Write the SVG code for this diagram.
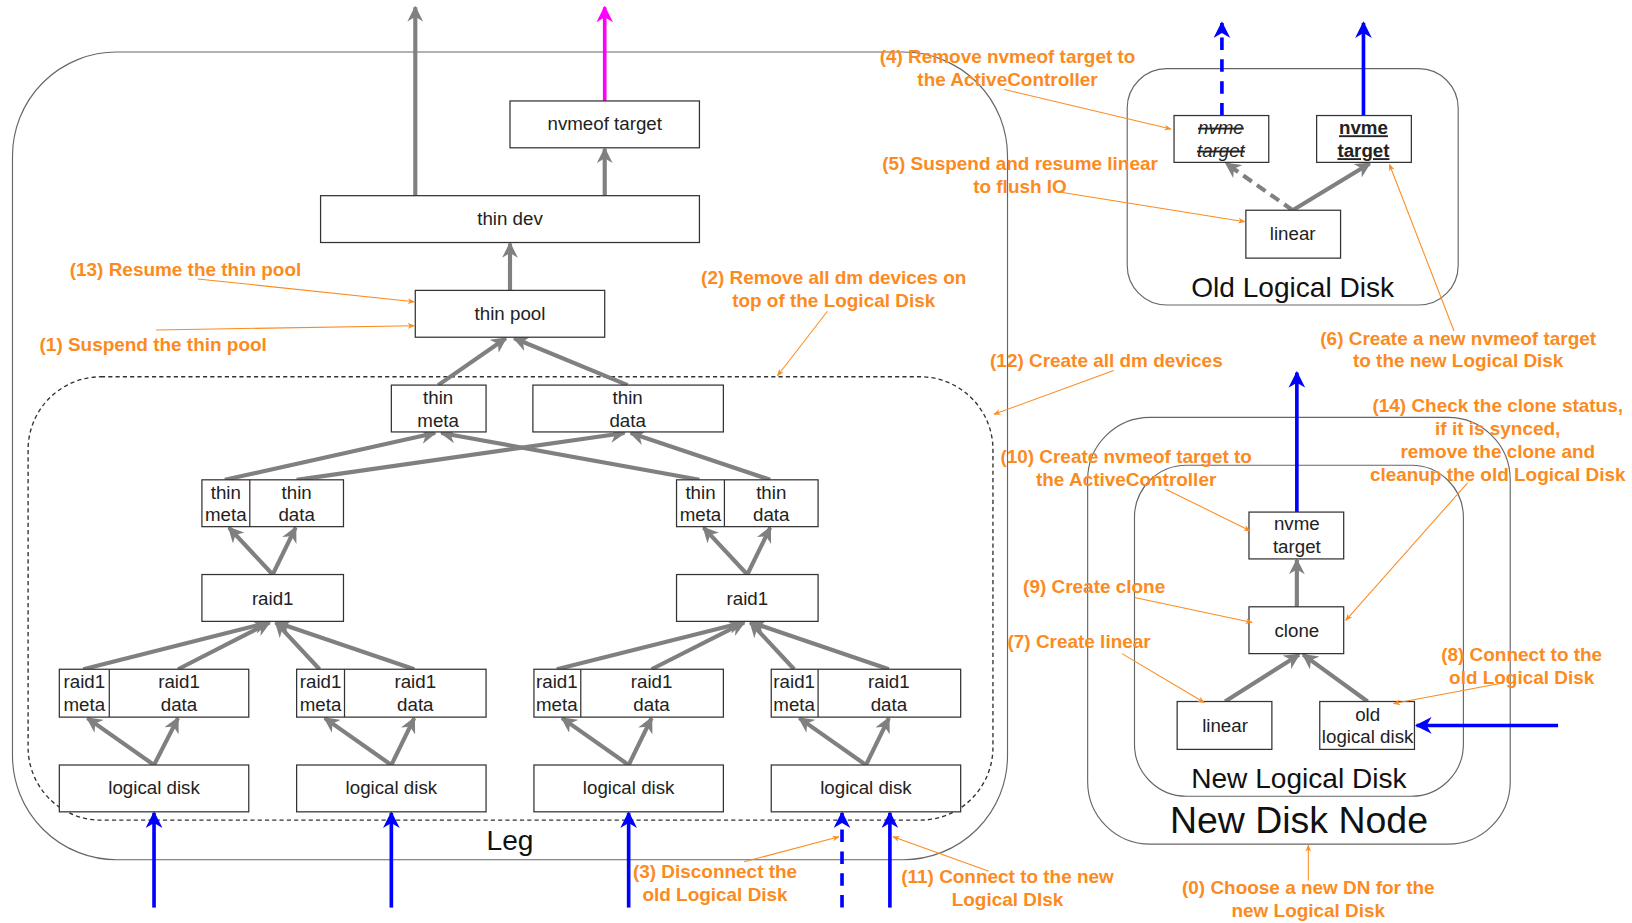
<svg xmlns="http://www.w3.org/2000/svg" width="1632" height="923" viewBox="0 0 1632 923">
<style>
.n rect{fill:#fff;stroke:#333;stroke-width:1.2}
.n line{stroke:#333;stroke-width:1.2}
.t{font-family:"Liberation Sans",Arial,sans-serif;font-size:18px;fill:#222;text-anchor:middle}
.big{font-family:"Liberation Sans",Arial,sans-serif;fill:#111;text-anchor:middle}
.o{font-family:"Liberation Sans",Arial,sans-serif;font-size:18.2px;font-weight:bold;fill:#fb8b1f}
.m{text-anchor:middle}
.ol{stroke:#fb8b1f;stroke-width:1;fill:none;marker-end:url(#ao)}
.g{stroke:#808080;stroke-width:4;fill:none;marker-end:url(#ag)}
.b{stroke:#0000ff;stroke-width:3.5;fill:none;marker-end:url(#ab)}
.c{fill:none;stroke:#666;stroke-width:1.1}
</style>
<defs>
<marker id="ag" viewBox="0 0 10 10" refX="9" refY="5" markerWidth="3.8" markerHeight="3.8" orient="auto"><path d="M0,0 L10,5 L0,10 L3,5 z" fill="#808080"/></marker>
<marker id="ab" viewBox="0 0 10 10" refX="9" refY="5" markerWidth="4.6" markerHeight="4.6" orient="auto"><path d="M0,0 L10,5 L0,10 L3,5 z" fill="#0000ff"/></marker>
<marker id="am" viewBox="0 0 10 10" refX="9" refY="5" markerWidth="4.6" markerHeight="4.6" orient="auto"><path d="M0,0 L10,5 L0,10 L3,5 z" fill="#ff00ff"/></marker>
<marker id="ao" viewBox="0 0 10 10" refX="9" refY="5" markerWidth="7" markerHeight="7" markerUnits="userSpaceOnUse" orient="auto"><path d="M0,1 L10,5 L0,9 L3,5 z" fill="#fb8b1f"/></marker>
</defs>
<rect x="0" y="0" width="1632" height="923" fill="#fff"/>
<g transform="scale(1.040816)">
<g id="containers">
<rect id="leg" class="c" x="12" y="50" width="956" height="776" rx="100" ry="100"/>
<rect id="leg-inner" x="27" y="362" width="927" height="426" rx="70" ry="70" fill="none" stroke="#333" stroke-width="1.3" stroke-dasharray="4 3"/>
<text class="big" x="490" y="817" font-size="27">Leg</text>
<rect id="old-ld" class="c" x="1083" y="66" width="318" height="227" rx="38" ry="38" stroke="#555"/>
<text class="big" x="1242" y="285" font-size="27">Old Logical Disk</text>
<rect id="new-dn" class="c" x="1045" y="401" width="406" height="410" rx="60" ry="60" stroke="#555"/>
<text class="big" x="1248" y="800" font-size="36">New Disk Node</text>
<rect id="new-ld" class="c" x="1090" y="447" width="316" height="318" rx="50" ry="50" stroke="#555"/>
<text class="big" x="1248" y="757" font-size="27">New Logical Disk</text>
</g>
<g id="connectors">
<path class="g" d="M399,188 L399,7"/>
<path d="M581,97 L581,7" stroke="#ff00ff" stroke-width="3.5" fill="none" marker-end="url(#am)"/>
<path class="g" d="M581,188 L581,143"/>
<path class="g" d="M490,279 L490,234"/>
<path class="g" d="M421,370 L486,325"/>
<path class="g" d="M603,370 L494,325"/>
<path class="g" d="M216,461 L418,416"/>
<path class="g" d="M285,461 L600,416"/>
<path class="g" d="M672,461 L424,416"/>
<path class="g" d="M740,461 L606,416"/>
<path class="g" d="M262,552 L220,507"/>
<path class="g" d="M262,552 L284,507"/>
<path class="g" d="M718,552 L676,507"/>
<path class="g" d="M718,552 L740,507"/>
<path class="g" d="M80,643 L258,598"/>
<path class="g" d="M171,643 L259,598"/>
<path class="g" d="M307,643 L265,598"/>
<path class="g" d="M398,643 L266,598"/>
<path class="g" d="M535,643 L714,598"/>
<path class="g" d="M626,643 L715,598"/>
<path class="g" d="M763,643 L721,598"/>
<path class="g" d="M854,643 L722,598"/>
<path class="g" d="M148,735 L84,690"/>
<path class="g" d="M148,735 L171,690"/>
<path class="g" d="M376,735 L312,690"/>
<path class="g" d="M376,735 L398,690"/>
<path class="g" d="M604,735 L540,690"/>
<path class="g" d="M604,735 L626,690"/>
<path class="g" d="M832,735 L768,690"/>
<path class="g" d="M832,735 L854,690"/>
<path class="b" d="M148,872 L148,781"/>
<path class="b" d="M376,872 L376,781"/>
<path class="b" d="M604,872 L604,781"/>
<path class="b" d="M809,872 L809,781" stroke-dasharray="12 9"/>
<path class="b" d="M855,872 L855,781"/>
<path class="b" d="M1174,111 L1174,22" stroke-dasharray="12 9"/>
<path class="b" d="M1310,111 L1310,22"/>
<path class="g" d="M1242,202 L1178,157" stroke-dasharray="10 6"/>
<path class="g" d="M1242,202 L1316,157"/>
<path class="b" d="M1246,492 L1246,358"/>
<path class="g" d="M1246,583 L1246,538"/>
<path class="g" d="M1177,674 L1248,629"/>
<path class="g" d="M1314,674 L1252,629"/>
<path class="b" d="M1497,697 L1361,697"/>
</g>
<g id="nvmeof-target" class="n"><rect x="490" y="97" width="182" height="45"/><text class="t" x="581" y="125">nvmeof target</text></g>
<g id="thin-dev" class="n"><rect x="308" y="188" width="364" height="45"/><text class="t" x="490" y="216">thin dev</text></g>
<g id="thin-pool" class="n"><rect x="399" y="279" width="182" height="45"/><text class="t" x="490" y="307">thin pool</text></g>
<g id="thin-meta" class="n"><rect x="376" y="370" width="91" height="45"/><text class="t" x="421" y="388">thin</text><text class="t" x="421" y="410">meta</text></g>
<g id="thin-data" class="n"><rect x="512" y="370" width="183" height="45"/><text class="t" x="603" y="388">thin</text><text class="t" x="603" y="410">data</text></g>
<g id="split-left" class="n"><rect x="194" y="461" width="136" height="45"/><line x1="240" y1="461" x2="240" y2="506"/><text class="t" x="217" y="479">thin</text><text class="t" x="217" y="501">meta</text><text class="t" x="285" y="479">thin</text><text class="t" x="285" y="501">data</text></g>
<g id="split-right" class="n"><rect x="650" y="461" width="136" height="45"/><line x1="696" y1="461" x2="696" y2="506"/><text class="t" x="673" y="479">thin</text><text class="t" x="673" y="501">meta</text><text class="t" x="741" y="479">thin</text><text class="t" x="741" y="501">data</text></g>
<g id="raid1-left" class="n"><rect x="194" y="552" width="136" height="45"/><text class="t" x="262" y="581">raid1</text></g>
<g id="raid1-right" class="n"><rect x="650" y="552" width="136" height="45"/><text class="t" x="718" y="581">raid1</text></g>
<g id="rmd1" class="n"><rect x="57" y="643" width="182" height="46"/><line x1="105" y1="643" x2="105" y2="689"/><text class="t" x="81" y="661">raid1</text><text class="t" x="81" y="683">meta</text><text class="t" x="172" y="661">raid1</text><text class="t" x="172" y="683">data</text></g>
<g id="rmd2" class="n"><rect x="285" y="643" width="182" height="46"/><line x1="331" y1="643" x2="331" y2="689"/><text class="t" x="308" y="661">raid1</text><text class="t" x="308" y="683">meta</text><text class="t" x="399" y="661">raid1</text><text class="t" x="399" y="683">data</text></g>
<g id="rmd3" class="n"><rect x="513" y="643" width="182" height="46"/><line x1="558" y1="643" x2="558" y2="689"/><text class="t" x="535" y="661">raid1</text><text class="t" x="535" y="683">meta</text><text class="t" x="626" y="661">raid1</text><text class="t" x="626" y="683">data</text></g>
<g id="rmd4" class="n"><rect x="741" y="643" width="182" height="46"/><line x1="786" y1="643" x2="786" y2="689"/><text class="t" x="763" y="661">raid1</text><text class="t" x="763" y="683">meta</text><text class="t" x="854" y="661">raid1</text><text class="t" x="854" y="683">data</text></g>
<g id="ld1" class="n"><rect x="57" y="735" width="182" height="45"/><text class="t" x="148" y="763">logical disk</text></g>
<g id="ld2" class="n"><rect x="285" y="735" width="182" height="45"/><text class="t" x="376" y="763">logical disk</text></g>
<g id="ld3" class="n"><rect x="513" y="735" width="182" height="45"/><text class="t" x="604" y="763">logical disk</text></g>
<g id="ld4" class="n"><rect x="741" y="735" width="182" height="45"/><text class="t" x="832" y="763">logical disk</text></g>
<g id="old-nvme" class="n"><rect x="1128" y="111" width="91" height="45"/><text class="t" x="1173" y="129" font-style="italic" text-decoration="line-through">nvme</text><text class="t" x="1173" y="151" font-style="italic" text-decoration="line-through">target</text></g>
<g id="new-nvme-old" class="n"><rect x="1265" y="111" width="91" height="45"/><text class="t" x="1310" y="129" font-weight="bold" text-decoration="underline">nvme</text><text class="t" x="1310" y="151" font-weight="bold" text-decoration="underline">target</text></g>
<g id="old-linear" class="n"><rect x="1197" y="202" width="91" height="46"/><text class="t" x="1242" y="231">linear</text></g>
<g id="nl-nvme" class="n"><rect x="1200" y="492" width="91" height="45"/><text class="t" x="1246" y="509">nvme</text><text class="t" x="1246" y="531">target</text></g>
<g id="clone" class="n"><rect x="1200" y="583" width="91" height="45"/><text class="t" x="1246" y="612">clone</text></g>
<g id="nl-linear" class="n"><rect x="1131" y="674" width="91" height="46"/><text class="t" x="1177" y="703">linear</text></g>
<g id="old-ld-node" class="n"><rect x="1268" y="674" width="91" height="46"/><text class="t" x="1314" y="693">old</text><text class="t" x="1314" y="714">logical disk</text></g>
<g id="annotations">
<text class="o" x="67" y="265">(13) Resume the thin pool</text>
<path class="ol" d="M190,268 L398,290"/>
<text class="o" x="38" y="337">(1) Suspend the thin pool</text>
<path class="ol" d="M150,317 L398,313"/>
<text class="o m" x="801" y="273">(2) Remove all dm devices on</text>
<text class="o m" x="801" y="295">top of the Logical Disk</text>
<path class="ol" d="M795,299 L747,361"/>
<text class="o m" x="968" y="61">(4) Remove nvmeof target to</text>
<text class="o m" x="968" y="83">the ActiveController</text>
<path class="ol" d="M965,86 L1125,124"/>
<text class="o m" x="980" y="163">(5) Suspend and resume linear</text>
<text class="o m" x="980" y="185">to flush IO</text>
<path class="ol" d="M1015,184 L1196,213"/>
<text class="o m" x="1401" y="331">(6) Create a new nvmeof target</text>
<text class="o m" x="1401" y="353">to the new Logical Disk</text>
<path class="ol" d="M1397,318 L1335,158"/>
<text class="o m" x="1063" y="353">(12) Create all dm devices</text>
<path class="ol" d="M1070,356 L955,398"/>
<text class="o m" x="1439" y="396">(14) Check the clone status,</text>
<text class="o m" x="1439" y="418">if it is synced,</text>
<text class="o m" x="1439" y="440">remove the clone and</text>
<text class="o m" x="1439" y="462">cleanup the old Logical Disk</text>
<path class="ol" d="M1410,464 L1293,596"/>
<text class="o m" x="1082" y="445">(10) Create nvmeof target to</text>
<text class="o m" x="1082" y="467">the ActiveController</text>
<path class="ol" d="M1120,470 L1201,510"/>
<text class="o" x="983" y="570">(9) Create clone</text>
<path class="ol" d="M1090,574 L1203,598"/>
<text class="o" x="968" y="623">(7) Create linear</text>
<path class="ol" d="M1078,628 L1157,675"/>
<text class="o m" x="1462" y="635">(8) Connect to the</text>
<text class="o m" x="1462" y="657">old Logical Disk</text>
<path class="ol" d="M1445,656 L1339,676"/>
<text class="o m" x="687" y="844">(3) Disconnect the</text>
<text class="o m" x="687" y="866">old Logical Disk</text>
<path class="ol" d="M715,828 L806,804"/>
<text class="o m" x="968" y="848">(11) Connect to the new</text>
<text class="o m" x="968" y="870">Logical DIsk</text>
<path class="ol" d="M950,837 L858,804"/>
<text class="o m" x="1257" y="859">(0) Choose a new DN for the</text>
<text class="o m" x="1257" y="881">new Logical Disk</text>
<path class="ol" d="M1257,846 L1257,812"/>
</g>
</g>
</svg>
